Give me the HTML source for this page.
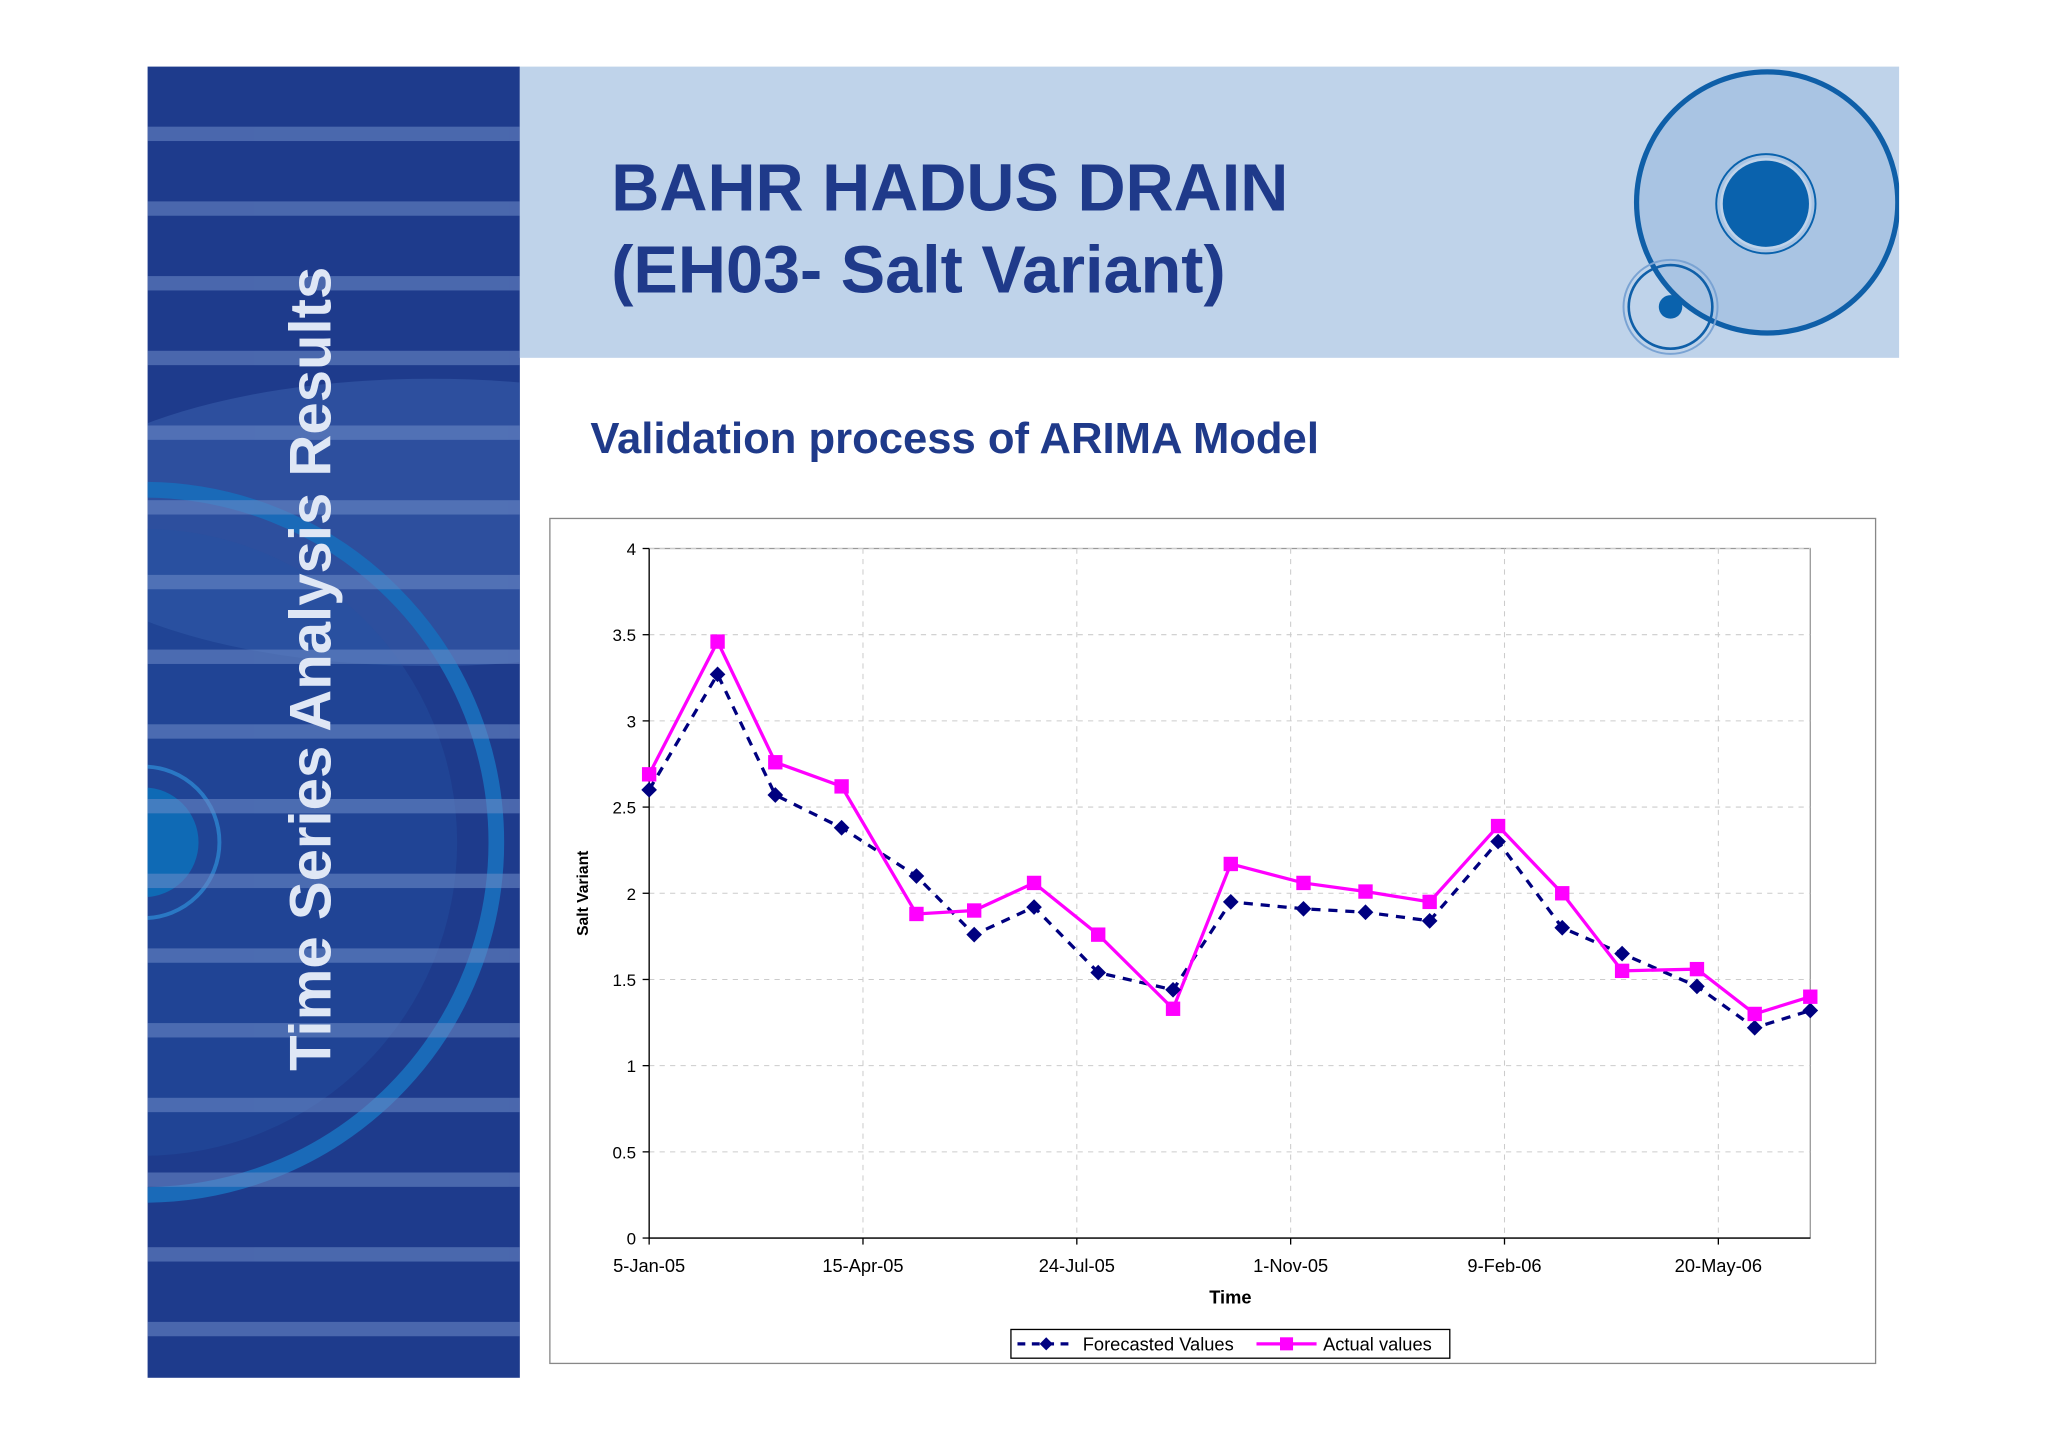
<!DOCTYPE html>
<html><head><meta charset="utf-8"><style>
html,body{margin:0;padding:0;background:#fff;}
svg{display:block;font-family:"Liberation Sans",Arial,sans-serif;}
</style></head><body>
<svg width="2048" height="1447" viewBox="0 0 1568 1108" preserveAspectRatio="none">
<defs>
<clipPath id="lp"><rect x="113" y="51" width="285" height="1004"/></clipPath>
<clipPath id="hp"><rect x="398" y="51" width="1056" height="223"/></clipPath>
</defs>
<g>
<rect x="113" y="51" width="285" height="1004" fill="#1e3b8c"/>
<g clip-path="url(#lp)">
<ellipse cx="330" cy="400" rx="300" ry="110" fill="#3b63b0" opacity="0.5"/>
<circle cx="110" cy="645" r="270" fill="none" stroke="#1a6ab8" stroke-width="12"/>
<circle cx="110" cy="645" r="240" fill="#2452a3" opacity="0.4"/>
<circle cx="110" cy="645" r="58" fill="none" stroke="#2a78c4" stroke-width="3"/>
<circle cx="110" cy="645" r="42" fill="#0f6ab5"/>
<g id="stripes" fill="#6f8dc8" opacity="0.55"></g>
</g>
<text transform="translate(253,820) rotate(-90)" font-size="44.5" font-weight="bold" fill="#dfe7f5">Time Series Analysis Results</text>
</g>
<g>
<rect x="398" y="51" width="1056" height="223" fill="#bfd3ea"/>
<g clip-path="url(#hp)">
<circle cx="1353" cy="155" r="100" fill="#a9c4e3" stroke="#0f5fa8" stroke-width="4"/>
<circle cx="1352" cy="156" r="34" fill="#0a62ad" stroke="#bfd3ea" stroke-width="2"/>
<circle cx="1352" cy="156" r="38" fill="none" stroke="#0a62ad" stroke-width="1.5"/>
<circle cx="1279" cy="235" r="32" fill="none" stroke="#0f5fa8" stroke-width="2"/>
<circle cx="1279" cy="235" r="9" fill="#0a62ad"/>
</g>
<circle cx="1279" cy="235" r="36" fill="none" stroke="#7aa3d3" stroke-width="1.5"/>
<text x="468" y="161" font-size="51" font-weight="bold" fill="#1f3a8a">BAHR HADUS DRAIN</text>
<text x="468" y="224" font-size="51" font-weight="bold" fill="#1f3a8a">(EH03- Salt Variant)</text>
</g>
<text x="452" y="347" font-size="33.4" font-weight="bold" fill="#1f3a8a">Validation process of ARIMA Model</text>
<rect x="421" y="397" width="1015" height="647" fill="#fff" stroke="#888" stroke-width="1"/>
<g id="chart"></g>
<text transform="translate(450,684) rotate(-90)" font-size="12" font-weight="bold" text-anchor="middle" fill="#000">Salt Variant</text>
<text x="942" y="998" font-size="14" font-weight="bold" text-anchor="middle" fill="#000">Time</text>
<g>
<rect x="774" y="1018" width="336" height="22" fill="#fff" stroke="#000" stroke-width="1"/>
<g>
<line x1="779" y1="1029" x2="822" y2="1029" stroke="#000080" stroke-width="2.5" stroke-dasharray="6,5"/>
<path d="M801 1024 L806 1029 L801 1034 L796 1029Z" fill="#000080"/>
<text x="829" y="1034" font-size="14" fill="#000">Forecasted Values</text>
</g>
<g>
<line x1="962" y1="1029" x2="1008" y2="1029" stroke="#ff00ff" stroke-width="2.5"/>
<rect x="980" y="1024" width="10" height="10" fill="#ff00ff"/>
<text x="1013" y="1034" font-size="14" fill="#000">Actual values</text>
</g>
</g>
</svg>
<script>
const days=[0,32,59,90,125,152,180,210,245,272,306,335,365,397,427,455,490,517,543];
const actual=[2.69,3.46,2.76,2.62,1.88,1.90,2.06,1.76,1.33,2.17,2.06,2.01,1.95,2.39,2.00,1.55,1.56,1.30,1.40];
const forecast=[2.60,3.27,2.57,2.38,2.10,1.76,1.92,1.54,1.44,1.95,1.91,1.89,1.84,2.30,1.80,1.65,1.46,1.22,1.32];
const yTicks=[0,0.5,1,1.5,2,2.5,3,3.5,4];
const xTickDays=[0,100,200,300,400,500];
const xTickLabels=["5-Jan-05","15-Apr-05","24-Jul-05","1-Nov-05","9-Feb-06","20-May-06"];
const NS="http://www.w3.org/2000/svg";
const X0=497,X1=1386,Y0=948,Y1=420,DMAX=543;
function xs(d){return X0+(X1-X0)*d/DMAX;}
function ys(v){return Y0-(Y0-Y1)*v/4;}
function mk(tag,at,parent){const e=document.createElementNS(NS,tag);for(const k in at)e.setAttribute(k,at[k]);parent.appendChild(e);return e;}
const st=document.getElementById('stripes');
for(let y=97;y<1055;y+=57.2){const r=mk('rect',{x:113,y:y,width:285,height:11},st);

}
const g=document.getElementById('chart');
mk('rect',{x:X0,y:Y1,width:X1-X0,height:Y0-Y1,fill:'#fff',stroke:'#999','stroke-width':1},g);
yTicks.forEach(t=>{const y=ys(t);
if(t>0){const l=mk('line',{x1:X0,x2:X1,y1:y,y2:y,stroke:'#ccc','stroke-dasharray':'4,4','stroke-width':0.8},g);

}
mk('line',{x1:X0-5,x2:X0,y1:y,y2:y,stroke:'#000'},g);
const tx=mk('text',{x:X0-10,y:y+5,'font-size':13,'text-anchor':'end'},g);tx.textContent=t;

});
xTickDays.forEach((d,i)=>{const x=xs(d);
if(d>0){const l=mk('line',{x1:x,x2:x,y1:Y1,y2:Y0,stroke:'#ccc','stroke-dasharray':'4,4','stroke-width':0.8},g);

}
mk('line',{x1:x,x2:x,y1:Y0,y2:Y0+5,stroke:'#000'},g);
const tx=mk('text',{x:x,y:Y0+26,'font-size':14,'text-anchor':'middle'},g);tx.textContent=xTickLabels[i];

});
mk('line',{x1:X0,x2:X0,y1:Y1,y2:Y0,stroke:'#000'},g);
mk('line',{x1:X0,x2:X1,y1:Y0,y2:Y0,stroke:'#000'},g);
const fp=mk('polyline',{points:days.map((d,i)=>xs(d)+','+ys(forecast[i])).join(' '),fill:'none',stroke:'#000080','stroke-width':2.5,'stroke-dasharray':'7,6'},g);


const ap=mk('polyline',{points:days.map((d,i)=>xs(d)+','+ys(actual[i])).join(' '),fill:'none',stroke:'#ff00ff','stroke-width':2.5},g);


days.forEach((d,i)=>{const x=xs(d),y=ys(forecast[i]);
const m=mk('path',{d:`M${x} ${y-6}L${x+6} ${y}L${x} ${y+6}L${x-6} ${y}Z`,fill:'#000080'},g);

});
days.forEach((d,i)=>{const x=xs(d),y=ys(actual[i]);
const m=mk('rect',{x:x-5.5,y:y-5.5,width:11,height:11,fill:'#ff00ff'},g);

});
</script>
</body></html>
